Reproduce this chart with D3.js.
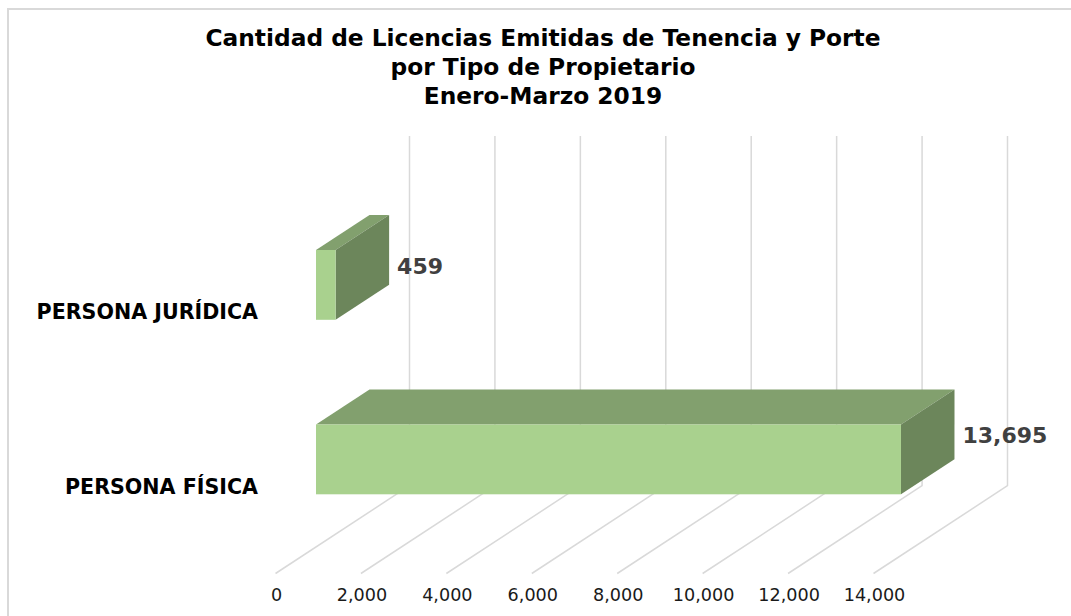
<!DOCTYPE html>
<html>
<head>
<meta charset="utf-8">
<script src="https://cdn.jsdelivr.net/npm/d3@7"></script>
<style>
	body { margin: 0; background: #fff; }
	text { font-family: "DejaVu Sans", sans-serif; }
	.title { font-size: 23.3px; font-weight: bold; fill: #000; text-anchor: middle; }
	.cat { font-size: 20.6px; font-weight: bold; fill: #000; text-anchor: end; }
	.val { font-size: 22px; font-weight: bold; fill: #404040; }
	.tick text { font-size: 17.6px; fill: #1a1a1a; }
</style>
</head>
<body>
<div id="chart-area"></div>
<script>
// values
let titleLines = ["Cantidad de Licencias Emitidas de Tenencia y Porte", "por Tipo de Propietario", "Enero-Marzo 2019"];
let categories = ["PERSONA JURÍDICA", "PERSONA FÍSICA"];
let values = [459, 13695];
let tickValues = [0, 2000, 4000, 6000, 8000, 10000, 12000, 14000];

let svg = d3.select("#chart-area").append("svg")
	.attr("width", 1071)
	.attr("height", 616)
	.style("display", "block");

// chart frame, only the top and left edges fall inside the window
svg.append("rect")
	.attr("x", 8).attr("y", 9)
	.attr("width", 1200).attr("height", 800)
	.attr("fill", "#fff")
	.attr("stroke", "#d9d9d9")
	.attr("stroke-width", 2);

svg.selectAll(".title")
	.data(titleLines)
	.enter()
	.append("text")
	.classed("title", true)
	.attr("x", 543)
	.attr("y", (d, i) => 45.5 + i * 29)
	.text(d => d);

// Scales: x is the value on the front edge of the floor,
// depth goes 0 (front) to 1 (back wall) and shifts points up and right
let floorY = 573.5, backTop = 136;
let x = d3.scaleLinear().domain([0, 14000]).range([275.5, 873.5]);
let depthX = d3.scaleLinear().domain([0, 1]).range([0, 134]);
let depthY = d3.scaleLinear().domain([0, 1]).range([floorY, 485.7]);

// Bar fronts sit at the same depth, categories spread them down the wall
let barX = d3.scaleLinear().domain([0, 14000]).range([x(0) + 40.5, x(14000) + 40.5]);
let y = d3.scaleBand().domain(categories).range([197.65, 546.65]).paddingInner(0.6).paddingOuter(0.3);
let barDepthX = 53.5, barDepthY = 35;

// Gridlines
let grid = svg.selectAll(".grid")
	.data(tickValues)
	.enter()
	.append("polyline")
	.classed("grid", true)
	.attr("fill", "none")
	.attr("stroke", "#d9d9d9")
	.attr("stroke-width", 1.5)
	.attr("points", d => {
		let bx = x(d) + depthX(1);
		return [[x(d), depthY(0)], [bx, depthY(1)], [bx, backTop]].join(" ");
	});

// Axis labels
let xAxis = d3.axisBottom(x)
	.tickValues(tickValues)
	.tickFormat(d3.format(","))
	.tickSize(0)
	.tickPadding(0);

svg.append("g")
	.attr("transform", "translate(0.5,588.5)")
	.call(xAxis)
	.call(g => g.select(".domain").remove());

// 3D bars, each made of three faces
let bars = svg.selectAll(".bar")
	.data(values)
	.enter()
	.append("g")
	.classed("bar", true);

function face(d, i, corners) {
	let x0 = barX(0), x1 = barX(d), y0 = y(categories[i]), y1 = y0 + y.bandwidth();
	return corners(x0, x1, y0, y1).join(" ");
}

bars.append("polygon")
	.attr("fill", "#82a06e")
	.attr("points", (d, i) => face(d, i, (x0, x1, y0, y1) => [
		[x0, y0], [x1, y0], [x1 + barDepthX, y0 - barDepthY], [x0 + barDepthX, y0 - barDepthY]]));

bars.append("polygon")
	.attr("fill", "#6c865b")
	.attr("points", (d, i) => face(d, i, (x0, x1, y0, y1) => [
		[x1, y0], [x1 + barDepthX, y0 - barDepthY], [x1 + barDepthX, y1 - barDepthY], [x1, y1]]));

bars.append("rect")
	.attr("fill", "#a9d18e")
	.attr("x", barX(0))
	.attr("y", (d, i) => y(categories[i]))
	.attr("width", d => barX(d) - barX(0))
	.attr("height", y.bandwidth());

// Data labels
bars.append("text")
	.classed("val", true)
	.attr("x", d => barX(d) + barDepthX + 8)
	.attr("y", (d, i) => y(categories[i]) + (i == 0 ? 24 : 18))
	.text(d => d3.format(",")(d));

// Category labels
svg.selectAll(".cat")
	.data(categories)
	.enter()
	.append("text")
	.classed("cat", true)
	.attr("x", 258)
	.attr("y", d => y(d) + y.bandwidth() - 0.5)
	.text(d => d);
</script>
</body>
</html>
